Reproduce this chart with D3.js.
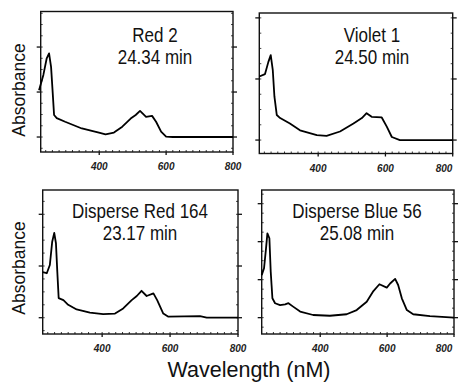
<!DOCTYPE html>
<html>
<head>
<meta charset="utf-8">
<script src="https://cdn.jsdelivr.net/npm/d3@7"></script>
<style>
  body { margin: 0; background: #fff; }
  svg { display: block; }
  .title { font-family: "Liberation Sans", Arial, sans-serif; font-size: 20px; fill: #111; }
  .tick-label { font-family: "Liberation Sans", Arial, sans-serif; font-size: 10px; font-style: italic; font-weight: bold; fill: #222; }
  .axis-title { font-family: "Liberation Sans", Arial, sans-serif; fill: #111; }
</style>
</head>
<body>
<div id="chart"></div>
<script>
var width = 460, height = 382;

// panel texts
var titles = ["Red 2", "Violet 1", "Disperse Red 164", "Disperse Blue 56"];
var times = ["24.34 min", "24.50 min", "23.17 min", "25.08 min"];
var xTickValues = [400, 600, 800];

// spectra (wavelength nm, absorbance above baseline)
var red2Wl  = [220, 233, 243, 250, 256, 261, 265, 273, 298, 348, 399, 419, 444, 469, 494, 509, 522, 540, 558, 570, 585, 600, 620, 800];
var red2Abs = [1.04, 1.38, 1.75, 1.86, 1.56, 0.97, 0.49, 0.42, 0.34, 0.19, 0.10, 0.06, 0.10, 0.23, 0.41, 0.49, 0.58, 0.45, 0.47, 0.34, 0.12, 0.01, 0.0, 0.0];

var violet1Wl  = [225, 242, 252, 259, 265, 270, 277, 287, 316, 346, 396, 425, 465, 505, 530, 544, 559, 589, 604, 619, 643, 800];
var violet1Abs = [1.04, 1.08, 1.28, 1.39, 1.15, 0.71, 0.41, 0.36, 0.27, 0.16, 0.08, 0.07, 0.14, 0.27, 0.36, 0.44, 0.38, 0.37, 0.22, 0.05, 0.0, 0.0];

var dr164Wl  = [225, 237, 246, 253, 259, 264, 268, 272, 286, 300, 325, 364, 403, 438, 462, 487, 502, 516, 531, 551, 562, 580, 595, 688, 708, 800];
var dr164Abs = [0.88, 0.86, 1.02, 1.47, 1.64, 1.44, 0.89, 0.38, 0.34, 0.25, 0.16, 0.10, 0.07, 0.08, 0.18, 0.34, 0.42, 0.52, 0.42, 0.47, 0.34, 0.08, 0.02, 0.03, 0.0, 0.0];

var db56Wl  = [225, 232, 238, 242, 248, 252, 257, 265, 280, 295, 305, 319, 340, 379, 429, 479, 509, 539, 559, 577, 599, 609, 624, 633, 644, 659, 678, 728, 800];
var db56Abs = [1.12, 1.30, 1.83, 2.22, 2.09, 1.21, 0.51, 0.38, 0.33, 0.35, 0.38, 0.29, 0.16, 0.07, 0.05, 0.09, 0.20, 0.42, 0.70, 0.88, 0.79, 0.90, 1.02, 0.86, 0.51, 0.20, 0.09, 0.04, 0.0];

var panels = [
  {wl: red2Wl,    abs: red2Abs,    left: 40.7,  top: 11.5, right: 233,   bottom: 152,   yDomain: [-0.333, 2.79], yTicks: [0, 1, 2], tx: 155, ty: 42},
  {wl: violet1Wl, abs: violet1Abs, left: 259.3, top: 13,   right: 452.7, bottom: 153.5, yDomain: [-0.22, 2.08],  yTicks: [0, 1, 2], tx: 372, ty: 42},
  {wl: dr164Wl,   abs: dr164Abs,   left: 42.7,  top: 190,  right: 238,   bottom: 334,   yDomain: [-0.315, 2.47], yTicks: [0, 1, 2], tx: 140, ty: 218},
  {wl: db56Wl,    abs: db56Abs,    left: 261.7, top: 190,  right: 454,   bottom: 334,   yDomain: [-0.43, 3.36],  yTicks: [0, 1, 2, 3], tx: 357, ty: 218}
];

var svg = d3.select("#chart").append("svg")
  .attr("width", width)
  .attr("height", height);

panels.forEach(function(p, i) {
  var x = d3.scaleLinear().domain([225, 800]).range([p.left, p.right]);
  var y = d3.scaleLinear().domain(p.yDomain).range([p.bottom, p.top]);
  var g = svg.append("g");

  // minor ticks along bottom
  var minorX = d3.range(240, 800, 20);
  g.selectAll(".mx").data(minorX).enter().append("line")
    .attr("x1", function(d) { return x(d) }).attr("x2", function(d) { return x(d) })
    .attr("y1", p.bottom).attr("y2", p.bottom - 2)
    .attr("stroke", "#333").attr("stroke-width", 1);
  // major x ticks
  g.selectAll(".Mx").data(xTickValues).enter().append("line")
    .attr("x1", function(d) { return x(d) }).attr("x2", function(d) { return x(d) })
    .attr("y1", p.bottom).attr("y2", p.bottom + 3)
    .attr("stroke", "#111").attr("stroke-width", 1.3);
  g.selectAll(".xl").data(xTickValues).enter().append("text")
    .attr("class", "tick-label")
    .attr("x", function(d) { return Math.min(x(d), 444) })
    .attr("y", p.bottom + 18)
    .attr("text-anchor", "middle")
    .text(function(d) { return d });

  // minor y ticks both sides, major ticks outward
  var minorY = d3.range(Math.ceil(p.yDomain[0] * 4) / 4, p.yDomain[1], 0.25);
  [p.left, p.right].forEach(function(xx, side) {
    g.selectAll(".my" + side).data(minorY).enter().append("line")
      .attr("x1", side ? xx - 2 : xx + 2).attr("x2", xx)
      .attr("y1", function(d) { return y(d) }).attr("y2", function(d) { return y(d) })
      .attr("stroke", "#444").attr("stroke-width", 1);
    g.selectAll(".My" + side).data(p.yTicks).enter().append("line")
      .attr("x1", side ? xx + 4 : xx - 4).attr("x2", xx)
      .attr("y1", function(d) { return y(d) }).attr("y2", function(d) { return y(d) })
      .attr("stroke", "#111").attr("stroke-width", 1.3);
  });

  // frame
  g.append("rect")
    .attr("x", p.left).attr("y", p.top)
    .attr("width", p.right - p.left).attr("height", p.bottom - p.top)
    .attr("fill", "none").attr("stroke", "#111").attr("stroke-width", 1.4);

  // spectrum
  var pts = p.wl.map(function(w, k) { return [w, p.abs[k]] });
  g.append("path")
    .datum(pts)
    .attr("fill", "none")
    .attr("stroke", "#000")
    .attr("stroke-width", 1.8)
    .attr("stroke-linejoin", "round")
    .attr("d", d3.line()
      .x(function(d) { return x(d[0]) })
      .y(function(d) { return y(d[1]) })
    );

  // title, squeezed like the narrow face in the original
  [titles[i], times[i]].forEach(function(t, k) {
    g.append("text").attr("class", "title")
      .attr("transform", "translate(" + p.tx + "," + (p.ty + k * 22) + ") scale(0.85,1)")
      .attr("text-anchor", "middle")
      .text(t);
  });
});

// y axis titles
[90, 268].forEach(function(cy) {
  svg.append("text").attr("class", "axis-title")
    .attr("transform", "translate(25," + cy + ") rotate(-90)")
    .attr("text-anchor", "middle")
    .style("font-size", "17.5px")
    .text("Absorbance");
});

svg.append("text").attr("class", "axis-title")
  .attr("x", 249).attr("y", 377)
  .attr("text-anchor", "middle")
  .style("font-size", "21.5px")
  .text("Wavelength (nM)");
</script>
</body>
</html>
